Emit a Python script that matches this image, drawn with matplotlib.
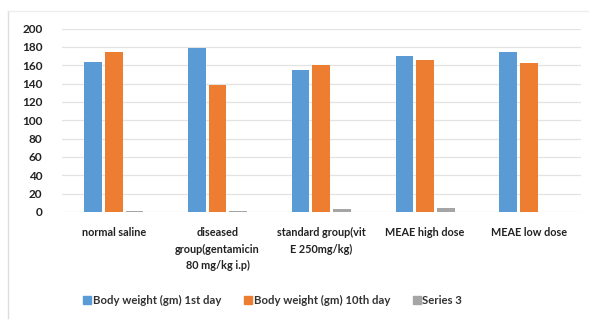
import matplotlib
matplotlib.use("Agg")
import matplotlib.pyplot as plt
import numpy as np
from matplotlib.lines import Line2D

categories = [
    "normal saline",
    "diseased\ngroup(gentamicin\n80 mg/kg i.p)",
    "standard group(vit\nE 250mg/kg)",
    "MEAE high dose",
    "MEAE low dose",
]
series_names = ["Body weight (gm) 1st day", "Body weight (gm) 10th day", "Series 3"]
day1 = [164, 179, 154.5, 170, 174.5]
day10 = [175, 138, 160, 165.5, 162.5]
series3 = [1.5, 1.5, 3, 4.7, 0]
colors = ["#5b9bd5", "#ed7d31", "#a5a5a5"]
yticks = [0, 20, 40, 60, 80, 100, 120, 140, 160, 180, 200]

plt.rcParams["font.family"] = ["Lato", "DejaVu Sans"]

fig = plt.figure(figsize=(5.89, 3.22), dpi=100)
ax = fig.add_axes([0.105, 0.342, 0.881, 0.569])

x = np.arange(len(categories))
slot = 0.2
width = 0.17
for i, vals in enumerate([day1, day10, series3]):
    ax.bar(x + (i - 1) * slot, vals, width=width, color=colors[i],
           label=series_names[i], zorder=3)

ax.set_xlim(-0.5, len(categories) - 0.5)
ax.set_ylim(0, 200)
ax.set_yticks(yticks)
ax.set_yticklabels([str(t) for t in yticks], fontsize=8.5, fontweight="bold",
                   color="#222222")
ax.set_xticks(x)
ax.set_xticklabels(categories, fontsize=7.8, fontweight="bold", color="#222222",
                   linespacing=1.6, va="top")
ax.tick_params(axis="both", length=0)
ax.tick_params(axis="x", pad=11)
ax.tick_params(axis="y", pad=14)
for s in ax.spines.values():
    s.set_visible(False)
ax.grid(axis="y", color="#e3e3e3", linewidth=0.9, zorder=0)

handles = [Line2D([], [], marker="s", linestyle="none", markersize=5.5,
                  markerfacecolor=c, markeredgecolor=c) for c in colors]
fig.legend(handles, series_names, loc="center", bbox_to_anchor=(0.463, 0.068),
           ncol=3, frameon=False, prop={"size": 8.2, "weight": "bold"},
           labelcolor="#333333", handletextpad=0.15,
           columnspacing=2.0, handlelength=0.7)

# light frame around the chart
fig.add_artist(Line2D([8 / 589, 8 / 589], [1 - 318 / 322, 1 - 11 / 322],
                      transform=fig.transFigure, color="#dddddd", linewidth=1))
fig.add_artist(Line2D([8 / 589, 1.0], [1 - 11 / 322, 1 - 11 / 322],
                      transform=fig.transFigure, color="#eeeeee", linewidth=1))

fig.savefig("out.png", dpi=100)
